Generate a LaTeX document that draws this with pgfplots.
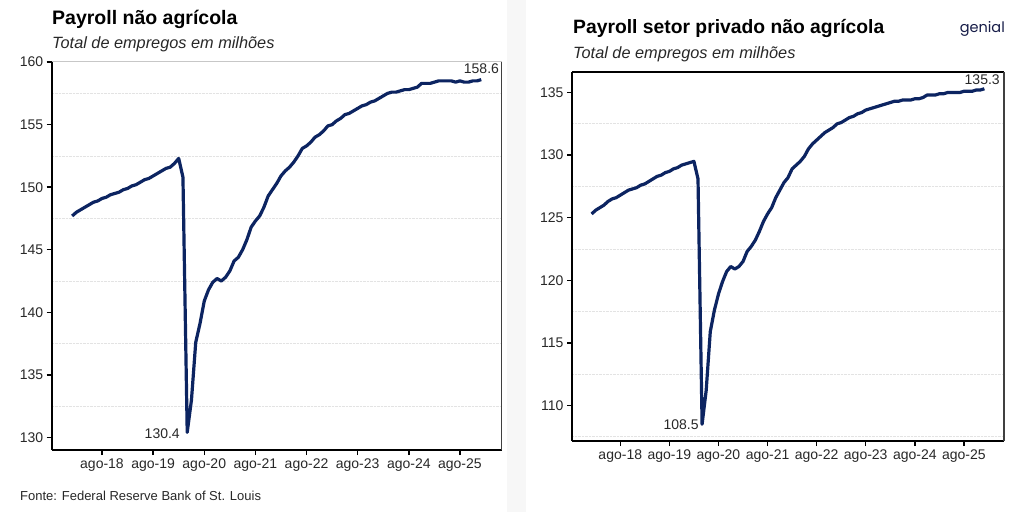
\documentclass[border=0pt]{standalone}
\usepackage{pgfplots}
\usepackage{pgfplotstable}
\pgfplotsset{compat=1.18}
\usepackage{fontspec}
\setmainfont{Liberation Sans}
\newfontfamily\logofont{Poppins}
\definecolor{navy}{RGB}{12,36,97}
\definecolor{txt}{RGB}{40,40,40}

\pgfplotstableread{
m v
0 147.7
1 148.0
2 148.2
3 148.4
4 148.6
5 148.8
6 148.9
7 149.1
8 149.2
9 149.4
10 149.5
11 149.6
12 149.8
13 149.9
14 150.1
15 150.2
16 150.4
17 150.6
18 150.7
19 150.9
20 151.1
21 151.3
22 151.5
23 151.6
24 151.9
25 152.3
26 150.8
27 130.4
28 133.0
29 137.6
30 139.1
31 140.9
32 141.8
33 142.4
34 142.7
35 142.5
36 142.8
37 143.3
38 144.1
39 144.4
40 145.0
41 145.8
42 146.8
43 147.3
44 147.7
45 148.4
46 149.3
47 149.8
48 150.3
49 150.9
50 151.3
51 151.6
52 152.0
53 152.5
54 153.1
55 153.3
56 153.6
57 154.0
58 154.2
59 154.5
60 154.9
61 155.0
62 155.3
63 155.5
64 155.8
65 155.9
66 156.1
67 156.3
68 156.5
69 156.6
70 156.8
71 156.9
72 157.1
73 157.3
74 157.5
75 157.6
76 157.6
77 157.7
78 157.8
79 157.8
80 157.9
81 158.0
82 158.3
83 158.3
84 158.3
85 158.4
86 158.5
87 158.5
88 158.5
89 158.5
90 158.4
91 158.5
92 158.4
93 158.4
94 158.5
95 158.5
96 158.6
}\total

\pgfplotstableread{
m v
0 125.3
1 125.6
2 125.8
3 126.0
4 126.3
5 126.5
6 126.6
7 126.8
8 127.0
9 127.2
10 127.3
11 127.4
12 127.6
13 127.7
14 127.9
15 128.1
16 128.3
17 128.4
18 128.6
19 128.7
20 128.9
21 129.0
22 129.2
23 129.3
24 129.4
25 129.5
26 128.1
27 108.5
28 111.2
29 115.9
30 117.6
31 118.9
32 119.9
33 120.7
34 121.1
35 120.9
36 121.1
37 121.5
38 122.3
39 122.7
40 123.2
41 123.9
42 124.7
43 125.3
44 125.8
45 126.6
46 127.2
47 127.8
48 128.2
49 128.9
50 129.2
51 129.5
52 129.9
53 130.5
54 130.9
55 131.2
56 131.5
57 131.8
58 132.0
59 132.2
60 132.5
61 132.6
62 132.8
63 133.0
64 133.1
65 133.3
66 133.4
67 133.6
68 133.7
69 133.8
70 133.9
71 134.0
72 134.1
73 134.2
74 134.3
75 134.3
76 134.4
77 134.4
78 134.4
79 134.5
80 134.5
81 134.6
82 134.8
83 134.8
84 134.8
85 134.9
86 134.9
87 135.0
88 135.0
89 135.0
90 135.0
91 135.1
92 135.1
93 135.1
94 135.2
95 135.2
96 135.3
}\privado

\pgfplotsset{
  payax/.style={
    scale only axis, clip=false,
    xmin=-4.8, xmax=100.8,
    axis x line*=bottom, axis y line*=left,
    axis line style={black, line width=1.8pt, -},
    xtick={7,19,31,43,55,67,79,91},
    xticklabels={ago-18,ago-19,ago-20,ago-21,ago-22,ago-23,ago-24,ago-25},
    tick align=outside, major tick length=5pt,
    tick style={black, line width=1.5pt},
    minor tick length=0pt,
    yminorgrids,
    minor grid style={black!11, densely dotted, line width=0.8pt},
    ticklabel style={font=\fontsize{14}{14}\selectfont, text=txt},
    /pgf/number format/assume math mode=true,
    yticklabel style={/pgf/number format/fixed},
  }
}

\begin{document}
\begin{tikzpicture}
\useasboundingbox (0pt,0pt) rectangle (1024pt,512pt);
\fill[white] (0pt,0pt) rectangle (1024pt,512pt);
\fill[black!3] (507pt,0pt) rectangle (526pt,512pt);

% left panel
\begin{axis}[payax, at={(51.7pt,62pt)}, anchor=south west, width=450pt, height=388pt,
  ymin=128.99, ymax=160.01,
  ytick={130,135,140,145,150,155,160},
  minor ytick={132.5,137.5,142.5,147.5,152.5,157.5}]
  \addplot[navy, line width=3.2pt, line join=round] table[x=m,y=v] {\total};
  \draw[black!22, line width=1pt] (rel axis cs:0,1) -- (rel axis cs:1,1);
  \draw[black!75, line width=1.5pt] (rel axis cs:1,0) -- (rel axis cs:1,1);
  \node[anchor=east, inner sep=0, font=\fontsize{14}{14}\selectfont, text=txt] at (axis cs:25.3,130.27) {130.4};
  \node[anchor=east, inner sep=0, font=\fontsize{14}{14}\selectfont, text=txt] at (axis cs:100.2,159.45) {158.6};
\end{axis}

% right panel
\begin{axis}[payax, at={(572pt,71pt)}, anchor=south west, width=432pt, height=369pt,
  ymin=107.16, ymax=136.64,
  ytick={110,115,120,125,130,135},
  minor ytick={107.5,112.5,117.5,122.5,127.5,132.5}]
  \addplot[navy, line width=3.2pt, line join=round] table[x=m,y=v] {\privado};
  \draw[black, line width=1.5pt] (rel axis cs:0,1) -- (rel axis cs:1,1);
  \draw[black!75, line width=1.5pt] (rel axis cs:1,0) -- (rel axis cs:1,1);
  \node[anchor=east, inner sep=0, font=\fontsize{14}{14}\selectfont, text=txt] at (axis cs:26.2,108.44) {108.5};
  \node[anchor=east, inner sep=0, font=\fontsize{14}{14}\selectfont, text=txt] at (axis cs:99.8,136.0) {135.3};
\end{axis}

% titles
\node[anchor=base west, inner sep=0, font=\bfseries\fontsize{19.5}{21}\selectfont] at (52pt,487pt) {Payroll não agrícola};
\node[anchor=base west, inner sep=0, font=\itshape\fontsize{16.3}{18}\selectfont, text=txt] at (52pt,463.7pt) {Total de empregos em milhões};
\node[anchor=base west, inner sep=0, font=\bfseries\fontsize{19.3}{21}\selectfont] at (573pt,478.7pt) {Payroll setor privado não agrícola};
\node[anchor=base west, inner sep=0, font=\itshape\fontsize{16.3}{18}\selectfont, text=txt] at (573pt,453.7pt) {Total de empregos em milhões};
\node[anchor=base east, inner sep=0, font=\logofont\fontsize{14.5}{15}\selectfont, text={rgb,255:red,22;green,28;blue,72}] at (1005pt,479pt) {genial};
\node[anchor=base west, inner sep=0, font=\fontsize{13}{14}\selectfont, text=txt] at (20pt,12pt) {Fonte: Federal Reserve Bank of St. Louis};
\end{tikzpicture}
\end{document}
